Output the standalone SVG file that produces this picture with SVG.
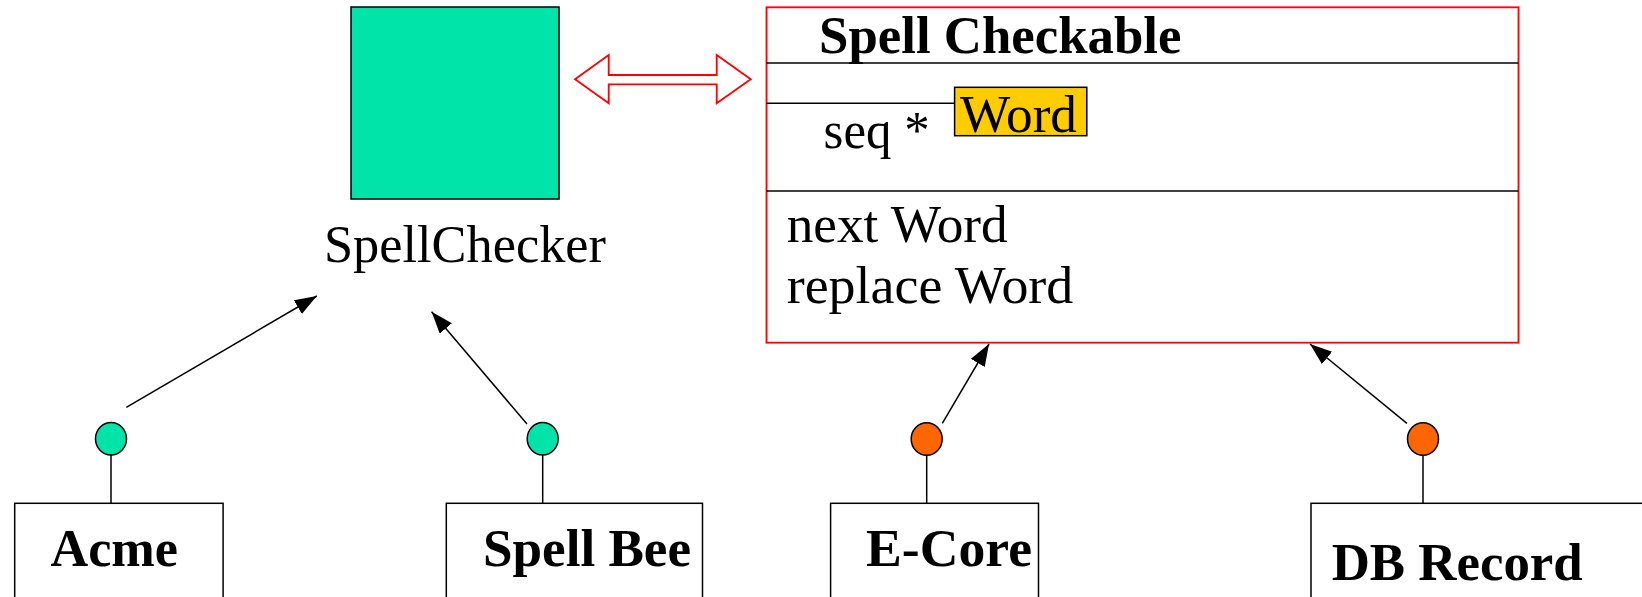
<svg xmlns="http://www.w3.org/2000/svg" width="1642" height="597" viewBox="0 0 1642 597">
<style>
text{font-family:"Liberation Serif","Times New Roman",serif;font-size:52px;fill:#000}
.b{font-weight:bold}
.box{fill:#fff;stroke:#000;stroke-width:1.5}
.ln{stroke:#000;stroke-width:1.5;fill:none}
.lolg{fill:#00E4AA;stroke:#000;stroke-width:1.5}
.lolo{fill:#FF6600;stroke:#000;stroke-width:1.5}
</style>
<defs>
<marker id="ah" markerUnits="userSpaceOnUse" markerWidth="24" markerHeight="18" refX="22" refY="8" orient="auto">
<path d="M0,0 L22,8 L0,16 Z" fill="#000"/>
</marker>
</defs>
<g id="spellchecker">
<rect x="351" y="7" width="208" height="192" fill="#00E4AA" stroke="#000" stroke-width="1.5"/>
<text x="324" y="261.7" textLength="282" lengthAdjust="spacingAndGlyphs">SpellChecker</text>
</g>
<g id="spellcheckable">
<rect x="766.5" y="7.3" width="752" height="335.4" fill="#fff" stroke="#FF0000" stroke-width="1.8"/>
<line class="ln" x1="766.5" y1="63" x2="1518.5" y2="63"/>
<line class="ln" x1="766.5" y1="103.3" x2="954.6" y2="103.3"/>
<line class="ln" x1="766.5" y1="191" x2="1518.5" y2="191"/>
<text class="b" x="819" y="53.3" textLength="362.5" lengthAdjust="spacingAndGlyphs">Spell Checkable</text>
<text x="823.6" y="148.3" textLength="106" lengthAdjust="spacingAndGlyphs">seq *</text>
<rect x="954.6" y="87.3" width="132.2" height="48.4" fill="#FFCC00" stroke="#000" stroke-width="1.5"/>
<text x="960" y="131.7" textLength="117" lengthAdjust="spacingAndGlyphs">Word</text>
<text x="786.7" y="241.7" textLength="221" lengthAdjust="spacingAndGlyphs">next Word</text>
<text x="786.7" y="303.3" textLength="286.6" lengthAdjust="spacingAndGlyphs">replace Word</text>
</g>
<g id="acme">
<rect class="box" x="14.7" y="503.3" width="208.4" height="120"/>
<text class="b" x="50.5" y="566" textLength="127.5" lengthAdjust="spacingAndGlyphs">Acme</text>
<line class="ln" x1="111" y1="455" x2="111" y2="503.3"/>
<ellipse class="lolg" cx="111" cy="438.7" rx="15.5" ry="16.3"/>
</g>
<g id="spellbee">
<rect class="box" x="446.3" y="503.3" width="256.2" height="120"/>
<text class="b" x="483" y="566" textLength="208" lengthAdjust="spacingAndGlyphs">Spell Bee</text>
<line class="ln" x1="542.7" y1="455" x2="542.7" y2="503.3"/>
<ellipse class="lolg" cx="542.7" cy="438.7" rx="15.5" ry="16.3"/>
</g>
<g id="ecore">
<rect class="box" x="830.6" y="503.3" width="207.9" height="120"/>
<text class="b" x="866" y="566" textLength="166" lengthAdjust="spacingAndGlyphs">E-Core</text>
<line class="ln" x1="926.7" y1="455" x2="926.7" y2="503.3"/>
<ellipse class="lolo" cx="926.7" cy="439" rx="15.5" ry="16.3"/>
</g>
<g id="dbrecord">
<rect class="box" x="1311" y="503.3" width="400" height="120"/>
<text class="b" x="1331.7" y="580" textLength="251" lengthAdjust="spacingAndGlyphs">DB Record</text>
<line class="ln" x1="1423" y1="455" x2="1423" y2="503.3"/>
<ellipse class="lolo" cx="1423" cy="439" rx="15.5" ry="16.3"/>
</g>
<g id="connectors">
<polygon points="575,79.3 608.7,55 608.7,75 716.7,75 716.7,55 750.7,79.3 716.7,103.3 716.7,84.3 608.7,84.3 608.7,103.3" fill="#fff" stroke="#FF0000" stroke-width="1.8"/>
<line class="ln" x1="126.3" y1="407.3" x2="316.8" y2="296" marker-end="url(#ah)"/>
<line class="ln" x1="527" y1="424" x2="431.6" y2="311.7" marker-end="url(#ah)"/>
<line class="ln" x1="942.3" y1="423.3" x2="989" y2="344" marker-end="url(#ah)"/>
<line class="ln" x1="1406.9" y1="423.3" x2="1310" y2="344" marker-end="url(#ah)"/>
</g>
</svg>
